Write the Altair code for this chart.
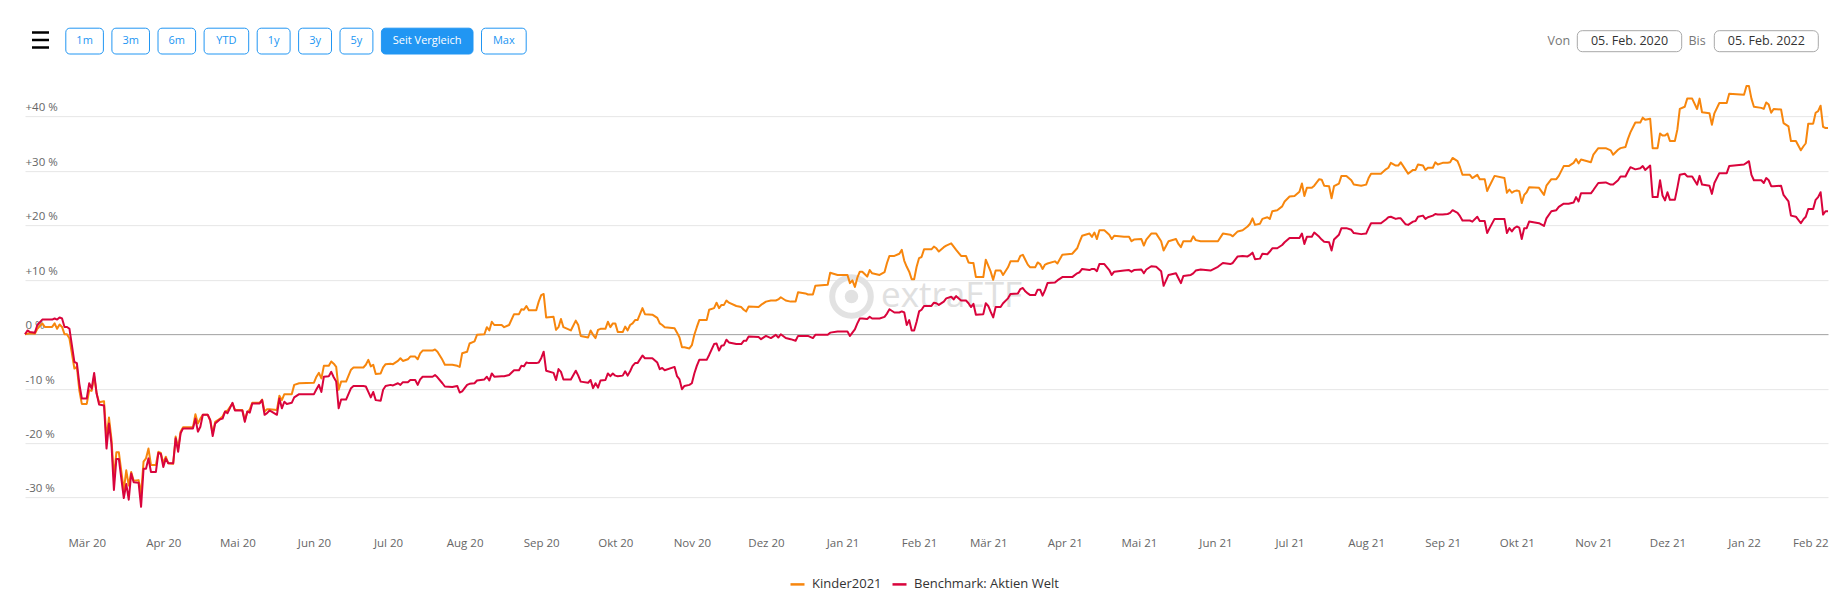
import altair as alt
import pandas as pd

# ---------------- data ----------------
SERIES = ["Kinder2021", "Benchmark: Aktien Welt"]
COLORS = ["#f7860d", "#d9043c"]

months = ["2020-02", "2020-03", "2020-04", "2020-05", "2020-06", "2020-07", "2020-08",
          "2020-09", "2020-10", "2020-11", "2020-12", "2021-01", "2021-02", "2021-03",
          "2021-04", "2021-05", "2021-06", "2021-07", "2021-08", "2021-09", "2021-10",
          "2021-11", "2021-12", "2022-01", "2022-02"]

days = [
    [5, 6, 7, 9, 10, 12, 13, 16, 17, 18, 19, 20, 21, 22, 23, 25, 26, 27, 28],
    [1, 2, 3, 4, 5, 6, 8, 9, 10, 11, 12, 13, 14, 16, 17, 18, 19, 20, 22, 23, 24, 25, 26, 27, 29, 30, 31],
    [1, 2, 3, 5, 6, 7, 8, 9, 13, 14, 15, 16, 17, 19, 20, 21, 22, 24, 25, 26, 27, 29, 30],
    [3, 4, 5, 6, 7, 10, 11, 12, 13, 14, 17, 18, 19, 20, 21, 23, 24, 26],
    [1, 2, 3, 4, 5, 7, 8, 9, 10, 11, 12, 14, 16, 17, 21, 22, 23, 24, 25, 26, 28, 29, 30],
    [2, 3, 5, 6, 7, 9, 10, 12, 13, 14, 15, 19, 20, 21, 23, 24, 27, 29, 30, 31],
    [2, 3, 5, 6, 9, 10, 11, 12, 13, 16, 17, 19, 21, 23, 24, 25, 26, 27, 30, 31],
    [1, 2, 3, 6, 7, 8, 9, 10, 13, 15, 16, 17, 20, 21, 22, 23, 24, 25, 27, 28, 29, 30],
    [1, 2, 4, 5, 6, 7, 8, 9, 10, 12, 13, 16, 18, 19, 20, 21, 25, 26, 27, 28, 29, 31],
    [1, 2, 3, 4, 7, 8, 10, 11, 12, 13, 14, 15, 16, 19, 21, 22, 23, 24, 28, 29],
    [1, 3, 5, 6, 7, 9, 11, 13, 14, 17, 18, 20, 21, 26, 27, 30],
    [3, 4, 5, 6, 7, 8, 9, 11, 12, 13, 16, 18, 19, 20, 22, 24, 25, 26, 27, 28, 29, 30, 31],
    [1, 2, 3, 6, 7, 8, 9, 11, 12, 14, 15, 16, 18, 20, 21, 22, 23, 24, 27, 28],
    [1, 2, 3, 4, 6, 7, 9, 10, 13, 14, 15, 16, 17, 18, 20, 21, 22, 23, 24, 25, 28, 29, 31],
    [4, 6, 7, 8, 11, 12, 13, 14, 15, 17, 19, 20, 21, 25, 27, 28, 29],
    [2, 3, 4, 6, 8, 10, 11, 13, 16, 17, 18, 19, 22, 23, 24, 26, 30],
    [2, 4, 7, 8, 10, 12, 14, 15, 16, 17, 19, 20, 22, 23, 24, 26, 28, 29],
    [1, 3, 5, 6, 7, 8, 10, 11, 13, 14, 15, 17, 18, 19, 21, 22, 24, 26, 27, 30],
    [1, 2, 3, 7, 9, 10, 11, 13, 14, 15, 17, 18, 20, 21, 22, 24, 25, 26, 28, 29, 30],
    [1, 3, 4, 5, 7, 8, 9, 12, 13, 15, 16, 18, 19, 20, 22, 26, 27, 28, 29, 30],
    [1, 2, 3, 4, 5, 6, 10, 12, 13, 15, 17, 18, 20, 22, 24, 25, 26, 27, 31],
    [1, 3, 6, 8, 9, 11, 12, 14, 15, 16, 18, 20, 21, 22, 24, 25, 27, 28, 29, 30],
    [1, 2, 4, 5, 6, 8, 9, 11, 13, 14, 15, 18, 19, 20, 22, 25, 26],
    [1, 2, 3, 4, 5, 8, 9, 10, 11, 12, 13, 16, 17, 19, 20, 22, 24, 25, 26, 27, 29, 30, 31],
    [1, 2, 3, 4],
]

kinder = [
    [0.0, 0.1, 0.2, 0.1, 1.0, 2.0, 1.35, 1.35, 2.0, 1.0, 1.8, 1.35, 0.0, 0.0, -0.8, -6.3, -6.0, -10.3, -12.8],
    [-12.8, -10.3, -10.4, -7.7, -10.9, -12.5, -12.3, -19.2, -15.3, -19.2, -26.3, -21.7, -21.7, -28.7, -25.0,
     -27.8, -25.3, -26.9, -26.8, -29.3, -23.4, -22.8, -21.0, -24.0, -24.0, -21.6, -21.8],
    [-23.7, -22.5, -23.7, -23.8, -18.8, -21.0, -17.9, -17.1, -17.1, -14.7, -16.4, -15.5, -14.8, -14.8, -15.8,
     -18.2, -16.1, -15.5, -15.1, -14.2, -14.0, -12.7, -13.9],
    [-13.9, -15.8, -14.3, -13.8, -12.6, -12.6, -12.0, -14.2, -13.8, -13.8, -13.9, -11.3, -12.1, -11.0, -11.0,
     -11.0, -9.3, -9.0],
    [-8.9, -7.8, -7.1, -8.1, -5.8, -5.8, -5.0, -5.4, -6.0, -10.2, -8.7, -8.7, -6.5, -6.1, -6.1, -5.6, -4.7,
     -5.9, -5.6, -7.3, -7.2, -6.1, -5.5],
    [-5.4, -5.5, -4.9, -4.4, -4.9, -4.6, -4.1, -4.1, -4.6, -3.5, -3.0, -3.0, -2.8, -3.2, -4.7, -5.6, -5.6,
     -5.8, -6.0, -3.5],
    [-3.2, -1.7, -1.3, -0.1, 0.0, 1.3, 0.7, 2.3, 1.7, 1.7, 1.3, 1.7, 3.7, 3.7, 4.6, 4.5, 5.2, 4.4, 4.4, 6.0],
    [7.2, 7.4, 3.1, 3.2, 0.8, 1.3, 2.8, 1.3, 0.7, 2.5, 1.7, -0.3, -0.6, 0.7, -0.1, -0.7, 0.8, 1.0, 1.0, 2.3,
     1.3, 2.0],
    [2.0, 0.4, 0.4, 1.4, 0.7, 1.7, 2.0, 2.6, 2.6, 4.8, 3.7, 3.6, 3.0, 2.0, 1.7, 1.3, 1.1, 0.3, -0.6, -2.4,
     -2.4, -2.6],
    [-2.0, -0.1, 1.3, 2.6, 2.6, 4.5, 4.8, 5.8, 4.8, 5.4, 5.4, 6.2, 5.8, 5.2, 5.0, 4.5, 4.2, 5.1, 5.0, 5.4],
    [6.0, 6.2, 6.2, 6.4, 6.8, 6.2, 6.0, 6.0, 7.7, 7.5, 7.3, 7.3, 8.9, 9.1, 11.3, 10.9],
    [10.9, 9.4, 9.9, 8.7, 10.4, 11.5, 11.5, 10.6, 11.8, 11.2, 10.9, 11.4, 13.1, 14.4, 14.4, 14.8, 15.5, 13.5,
     12.4, 11.5, 10.1, 10.1, 12.4],
    [14.0, 14.2, 15.6, 15.6, 16.1, 15.8, 15.2, 16.0, 16.3, 16.7, 16.1, 15.5, 14.4, 14.4, 13.2, 13.1, 13.1,
     10.5, 10.5, 13.7],
    [12.6, 11.5, 10.0, 11.7, 11.7, 10.9, 12.3, 13.4, 13.4, 14.4, 14.6, 13.7, 12.8, 12.3, 12.3, 13.2, 12.9,
     12.0, 12.8, 13.0, 13.4, 13.0, 14.6],
    [14.8, 15.8, 17.0, 18.1, 18.5, 17.9, 18.7, 17.5, 19.1, 19.1, 18.3, 17.5, 18.1, 17.9, 17.9, 17.1, 17.4],
    [17.5, 16.3, 17.4, 18.5, 18.5, 17.1, 15.4, 17.1, 17.5, 16.6, 16.0, 17.1, 17.1, 18.0, 17.3, 17.1, 17.1],
    [17.1, 18.5, 18.3, 18.0, 18.9, 19.1, 19.8, 20.3, 21.3, 20.1, 20.3, 21.2, 21.5, 21.2, 22.6, 22.8, 23.5,
     24.4],
    [25.3, 25.4, 26.2, 27.7, 25.4, 26.9, 26.9, 27.3, 28.5, 28.4, 27.3, 27.2, 25.0, 27.2, 27.7, 29.1, 29.1,
     28.3, 27.5, 27.3],
    [27.5, 28.7, 29.5, 29.5, 30.3, 30.6, 31.5, 31.0, 31.0, 31.6, 30.2, 29.5, 30.2, 30.2, 31.2, 31.0, 30.2,
     30.6, 30.6, 31.6, 31.2],
    [31.5, 31.5, 31.6, 32.4, 31.8, 30.7, 29.3, 29.3, 28.7, 29.3, 28.5, 28.5, 26.3, 27.3, 29.1, 28.7, 26.0,
     26.6, 26.0, 26.3],
    [26.4, 26.3, 24.1, 25.6, 26.1, 27.0, 26.9, 25.6, 27.3, 28.5, 28.5, 29.1, 30.9, 30.9, 31.5, 32.2, 31.4,
     32.1, 31.6],
    [33.0, 34.2, 34.2, 33.8, 33.0, 33.9, 34.2, 34.4, 35.9, 37.1, 38.9, 38.9, 39.8, 39.4, 39.6, 34.2, 34.2,
     36.9, 36.5, 36.5],
    [36.9, 35.5, 35.5, 37.6, 41.4, 41.8, 43.3, 43.3, 41.4, 43.3, 40.8, 40.6, 38.5, 40.6, 42.5, 42.5, 44.2],
    [44.0, 45.6, 45.6, 43.3, 41.8, 41.6, 41.4, 42.6, 42.2, 40.7, 41.4, 41.3, 38.8, 38.2, 35.5, 35.5, 33.8,
     34.5, 35.1, 38.7, 38.7, 40.7, 41.0],
    [42.0, 38.1, 37.9, 37.9],
]

benchmark = [
    [0.0, 0.7, 0.4, 0.3, 1.7, 2.7, 2.7, 2.7, 2.9, 2.7, 3.1, 2.9, 1.35, 1.35, 1.0, -5.1, -5.3, -9.1, -11.8],
    [-11.8, -9.0, -10.0, -7.1, -10.9, -12.9, -13.1, -21.0, -16.4, -20.1, -28.6, -22.9, -22.9, -30.1, -27.5,
     -30.4, -25.6, -27.2, -27.3, -31.7, -24.7, -24.7, -22.8, -25.3, -25.3, -21.8, -22.0],
    [-24.4, -22.8, -23.7, -23.7, -19.1, -21.6, -18.2, -17.3, -17.3, -15.5, -17.9, -17.0, -14.8, -14.8, -15.8,
     -18.7, -16.4, -15.6, -15.5, -14.2, -14.5, -12.6, -14.0],
    [-14.0, -16.1, -14.2, -14.4, -12.7, -12.7, -12.1, -14.8, -14.5, -14.0, -14.8, -11.8, -13.6, -12.4, -12.8,
     -12.6, -11.6, -11.0],
    [-11.0, -10.1, -9.3, -10.6, -7.8, -7.7, -6.9, -7.9, -8.7, -13.6, -12.0, -12.0, -9.9, -9.5, -9.5, -9.6,
     -10.6, -11.6, -10.6, -12.1, -12.2, -10.2, -9.5],
    [-9.3, -9.4, -9.0, -9.3, -8.8, -8.8, -8.4, -8.4, -9.3, -8.3, -7.8, -7.8, -7.5, -7.9, -9.0, -9.6, -9.7,
     -9.5, -10.7, -10.5],
    [-9.3, -9.1, -9.0, -8.5, -8.3, -7.8, -8.5, -7.2, -7.8, -7.7, -7.7, -7.5, -6.6, -6.6, -5.8, -5.9, -5.2,
     -5.3, -5.3, -5.2],
    [-4.4, -3.2, -6.7, -7.1, -8.4, -6.4, -6.9, -8.3, -8.3, -6.7, -7.6, -8.7, -8.9, -8.4, -9.9, -9.0, -9.8,
     -8.5, -8.4, -7.2, -7.7, -7.2],
    [-7.6, -7.7, -7.6, -6.8, -7.6, -6.8, -5.8, -5.3, -5.3, -3.9, -4.4, -4.4, -5.2, -6.4, -6.2, -6.6, -6.0,
     -7.7, -8.3, -10.1, -9.5, -9.3],
    [-9.0, -7.2, -5.8, -4.7, -4.7, -3.8, -1.8, -1.7, -3.0, -2.1, -2.0, -1.0, -1.5, -1.8, -1.8, -1.2, -1.2,
     -0.4, -0.5, -0.9],
    [-0.3, -0.7, -0.1, -0.6, 0.0, -0.7, -0.9, -1.2, -0.3, -0.3, -0.3, -0.7, -0.1, -0.1, 0.3, 0.5],
    [0.5, -0.3, 0.3, 0.9, 2.0, 2.9, 2.9, 2.8, 3.2, 2.9, 2.9, 3.2, 3.8, 4.6, 4.0, 4.0, 4.2, 4.0, 1.7, 2.6,
     0.7, 0.7, 2.3],
    [4.2, 4.5, 5.2, 5.2, 5.8, 5.7, 5.4, 6.0, 6.6, 6.9, 6.4, 7.0, 6.2, 6.2, 5.7, 5.0, 5.6, 3.6, 3.7, 5.7],
    [5.2, 4.1, 3.1, 5.0, 5.0, 5.7, 6.6, 7.4, 7.5, 8.3, 8.5, 7.9, 7.5, 7.2, 7.2, 8.2, 8.2, 7.1, 8.1, 9.4,
     9.5, 9.9, 10.5],
    [10.5, 11.2, 11.4, 12.0, 11.8, 12.0, 12.0, 11.6, 12.9, 12.9, 11.8, 10.9, 11.5, 11.7, 11.8, 11.5, 11.8],
    [11.9, 11.2, 11.9, 12.5, 12.4, 11.6, 8.9, 10.9, 11.2, 10.3, 9.4, 10.7, 10.9, 11.2, 11.7, 11.9, 11.7],
    [12.4, 13.1, 12.9, 13.1, 14.3, 14.4, 14.3, 14.6, 15.0, 13.8, 13.9, 14.8, 14.7, 15.2, 15.8, 15.8, 16.4,
     16.9],
    [17.7, 17.7, 17.7, 18.5, 16.6, 17.9, 17.9, 18.7, 17.9, 17.4, 17.0, 16.9, 15.4, 17.4, 18.3, 19.5, 19.5,
     19.2, 18.6, 18.4],
    [18.5, 19.5, 20.4, 20.4, 21.1, 21.5, 21.6, 21.2, 21.3, 21.3, 20.2, 20.1, 20.7, 20.8, 21.6, 21.8, 21.2,
     21.5, 21.8, 22.1, 22.0],
    [22.0, 22.1, 22.3, 22.8, 22.3, 21.7, 20.9, 20.9, 20.7, 21.6, 20.8, 20.8, 18.6, 19.5, 21.2, 21.2, 18.6,
     19.5, 18.9, 19.5],
    [19.8, 19.6, 17.5, 19.5, 19.5, 20.7, 20.4, 19.9, 21.3, 22.6, 22.8, 23.4, 24.0, 24.0, 24.2, 25.2, 24.4,
     25.9, 25.9],
    [26.5, 27.8, 27.9, 27.5, 27.5, 28.3, 29.0, 29.0, 29.9, 30.7, 30.3, 30.5, 30.9, 30.2, 31.0, 25.2, 25.2,
     28.3, 25.5, 24.6],
    [26.1, 24.7, 24.7, 26.9, 29.3, 29.5, 29.0, 29.0, 27.5, 29.1, 27.5, 27.3, 25.8, 27.8, 29.6, 29.6, 30.9],
    [31.2, 31.5, 31.8, 29.3, 28.3, 28.3, 27.8, 28.7, 28.3, 27.2, 27.2, 27.3, 25.6, 24.4, 21.8, 21.6, 20.4,
     21.1, 21.6, 23.0, 23.0, 24.7, 25.2],
    [26.1, 22.0, 22.6, 22.6],
]

y_ticks = [-30, -20, -10, 0, 10, 20, 30, 40]
month_labels = ["Jan", "Feb", "Mär", "Apr", "Mai", "Jun", "Jul", "Aug", "Sep", "Okt", "Nov", "Dez"]
x_tick_months = ([(2020, m) for m in range(3, 13)] + [(2021, m) for m in range(1, 13)]
                 + [(2022, 1), (2022, 2)])

buttons = ["1m", "3m", "6m", "YTD", "1y", "3y", "5y", "Seit Vergleich", "Max"]
active_button = "Seit Vergleich"
date_from = "05. Feb. 2020"
date_to = "05. Feb. 2022"
watermark = "extraETF"

# ---------------- layout / style ----------------
FONT = "Open Sans"
BLUE = "#2196f3"
W, H = 1803, 462.6
PAD = {"left": 17, "top": 54.15, "right": 6, "bottom": 80}
button_widths = [37.6, 37.6, 37.6, 44.6, 32.9, 32.9, 32.9, 91.6, 44.7]

# ---------------- build tables ----------------
dates, kv, bv = [], [], []
for m, dl, kl, bl in zip(months, days, kinder, benchmark):
    assert len(dl) == len(kl) == len(bl), (m, len(dl), len(kl), len(bl))
    for d, k, b in zip(dl, kl, bl):
        dates.append(f"{m}-{d:02d}")
        kv.append(k)
        bv.append(b)

df_k = pd.DataFrame({"date": dates, "value": kv, "series": SERIES[0]})
df_b = pd.DataFrame({"date": dates, "value": bv, "series": SERIES[1]})
one = pd.DataFrame({"k": [0]})

month_js = "[" + ",".join(f"'{m}'" for m in month_labels) + "]"
x_label_expr = f"{month_js}[utcmonth(datum.value)] + ' ' + utcFormat(datum.value, '%y')"
y_label_expr = "(datum.value > 0 ? '+' : '') + datum.value + ' %'"

x_enc = alt.X(
    "date:T", title=None,
    scale=alt.Scale(type="utc", domain=[alt.DateTime(year=2020, month=2, date=5, utc=True),
                                        alt.DateTime(year=2022, month=2, date=4, utc=True)]),
    axis=alt.Axis(values=[alt.DateTime(year=y, month=m, date=1, utc=True) for y, m in x_tick_months],
                  labelExpr=x_label_expr, grid=False, ticks=False, tickSize=0, domain=False,
                  labelPadding=13, labelFontSize=11.5, labelColor="#666666", labelFont=FONT,
                  labelOverlap=False, labelFlush=10, labelFlushOffset=7.5),
)
y_enc = alt.Y(
    "value:Q", title=None,
    scale=alt.Scale(domain=[-35, 50], nice=False, zero=False),
    axis=alt.Axis(values=y_ticks, labelExpr=y_label_expr, grid=True,
                  gridColor={"condition": {"test": "datum.value === 0", "value": "#a0a0a0"},
                             "value": "#e6e6e6"},
                  gridWidth=1, ticks=False, tickSize=0, domain=False, labelAlign="left",
                  labelBaseline="alphabetic", labelPadding=0, labelOffset=-5.6,
                  labelFontSize=11.5, labelColor="#666666", labelFont=FONT),
)
color_enc = alt.Color(
    "series:N",
    scale=alt.Scale(domain=SERIES, range=COLORS),
    legend=alt.Legend(title=None, orient="none", legendX=764, legendY=513.5, direction="horizontal",
                      symbolType="stroke", symbolSize=196, symbolStrokeWidth=2.5,
                      labelFontSize=13, labelColor="#333333", labelFont=FONT, labelOffset=6,
                      columnPadding=5, padding=0),
)

layers = []

# watermark (behind the lines)
layers.append(alt.Chart(one).mark_point(shape="circle", filled=False, size=1490, strokeWidth=6,
                                        color="#e2e2e2", opacity=1)
              .encode(x=alt.value(826.5), y=alt.value(234.4)))
layers.append(alt.Chart(one).mark_circle(size=180, color="#e2e2e2", opacity=1)
              .encode(x=alt.value(826.5), y=alt.value(234.4)))
layers.append(alt.Chart(one).mark_text(text=watermark, fontSize=35, color="#e0e0e0", align="left",
                                       baseline="alphabetic", font=FONT)
              .encode(x=alt.value(856), y=alt.value(244.6)))

# data lines
layers.append(alt.Chart(df_k).mark_line(strokeWidth=2, strokeJoin="round")
              .encode(x=x_enc, y=y_enc, color=color_enc))
layers.append(alt.Chart(df_b).mark_line(strokeWidth=2, strokeJoin="round")
              .encode(x=x_enc, y=y_enc, color=color_enc))


def rect(x0, x1, y0, y1, fill, stroke, r):
    return alt.Chart(one).mark_rect(fill=fill, stroke=stroke, strokeWidth=1, cornerRadius=r).encode(
        x=alt.value(x0), x2=alt.value(x1), y=alt.value(y0), y2=alt.value(y1))


def label(txt, x, y, size, color, align="center"):
    return alt.Chart(one).mark_text(text=txt, fontSize=size, color=color, align=align,
                                    baseline="middle", font=FONT).encode(x=alt.value(x), y=alt.value(y))


# hamburger icon
for yy in [-29.65, -22.15, -14.65]:
    layers.append(alt.Chart(one).mark_rule(strokeWidth=2.5, color="#000000")
                  .encode(x=alt.value(7), x2=alt.value(24), y=alt.value(yy)))

# range buttons
bx = 40.8
for name, w in zip(buttons, button_widths):
    is_active = name == active_button
    layers.append(rect(bx, bx + w, -33.95, -8.15, BLUE if is_active else "#ffffff", BLUE, 4))
    layers.append(label(name, bx + w / 2, -21.05, 11, "#ffffff" if is_active else BLUE))
    bx += w + 8.5

# date range boxes
layers.append(label("Von", 1533.9, -20.95, 12.5, "#777777"))
layers.append(rect(1552.3, 1656.7, -31.45, -10.45, "#ffffff", "#a8a8a8", 5))
layers.append(label(date_from, 1604.5, -20.95, 12.5, "#333333"))
layers.append(label("Bis", 1672, -20.95, 12.5, "#777777"))
layers.append(rect(1689.3, 1793.3, -31.45, -10.45, "#ffffff", "#a8a8a8", 5))
layers.append(label(date_to, 1741.3, -20.95, 12.5, "#333333"))

chart = (
    alt.layer(*layers)
    .properties(width=W, height=H, padding=PAD, autosize=alt.AutoSizeParams(type="none"))
    .configure(font=FONT)
    .configure_view(strokeWidth=0)
)

chart.save("out.html", embed_options={"renderer": "svg", "actions": False})
